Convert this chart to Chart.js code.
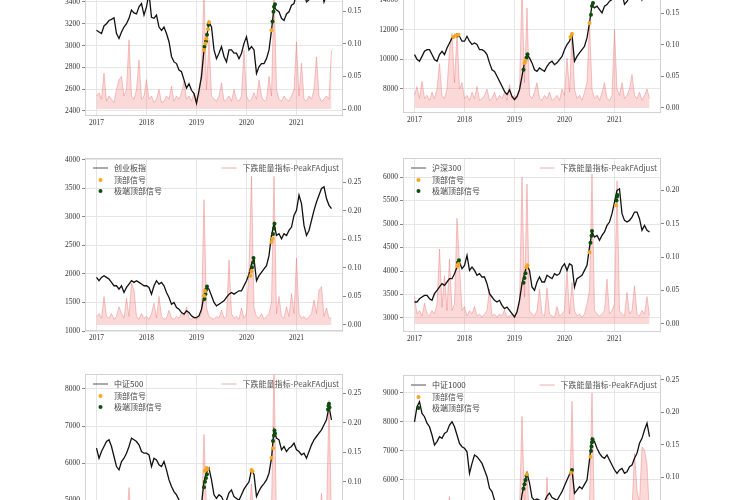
<!DOCTYPE html>
<html>
<head>
<meta charset="utf-8">
<script src="https://cdn.jsdelivr.net/npm/chart.js@4.4.0/dist/chart.umd.min.js"></script>
<style>
  html, body { margin: 0; padding: 0; background: #fff; }
  #wrap { position: relative; width: 750px; height: 500px; overflow: hidden; background: #fff; }
  canvas { position: absolute; }
</style>
</head>
<body>
<div id="wrap">
  <canvas id="c0"></canvas>
  <canvas id="c1"></canvas>
  <canvas id="c2"></canvas>
  <canvas id="c3"></canvas>
  <canvas id="c4"></canvas>
  <canvas id="c5"></canvas>
</div>
<script>
// sampling grid: every 0.05 year from 2017.00 to 2021.70
const dates = [];
for (let i = 0; i <= 94; i++) dates.push(+(2017 + i * 0.05).toFixed(2));
const yearTicks = [2017, 2018, 2019, 2020, 2021];
const peakTicks = [0, 0.05, 0.1, 0.15, 0.2, 0.25];

// 上证指数
const szzsClose = [
  3140, 3125, 3110, 3180, 3200, 3230, 3240, 3255, 3110, 3065, 3125, 3170, 3200, 3250, 3325, 3300, 3290, 3355, 3385, 3280,
  3355, 3480, 3260, 3250, 3280, 3170, 3140, 3170, 3110, 3035, 2900, 2850, 2835, 2775, 2760, 2685, 2610, 2650, 2590, 2560,
  2470, 2590, 2715, 2960, 3065, 3215, 3170, 2960, 2880, 2930, 2990, 2900, 2850, 2960, 2960, 2930, 2930, 2880, 2930, 3020,
  3080, 2960, 2990, 2960, 2745, 2805, 2835, 2835, 2880, 2960, 3140, 3355, 3325, 3310, 3250, 3230, 3290, 3310, 3370, 3385,
  3480, 3540, 3600, 3480, 3400, 3420, 3440, 3520, 3580, 3560, 3540, 3400, 3460, 3560, 3600
];
const szzsPeak = [
  0.02, 0.025, 0.015, 0.055, 0.012, 0.02, 0.015, 0.01, 0.03, 0.045, 0.05, 0.02, 0.03, 0.106, 0.02, 0.015, 0.03, 0.075, 0.015, 0.02,
  0.045, 0.015, 0.02, 0.01, 0.015, 0.03, 0.01, 0.012, 0.02, 0.015, 0.035, 0.012, 0.02, 0.015, 0.025, 0.042, 0.015, 0.02, 0.012, 0.025,
  0.015, 0.02, 0.065, 0.18, 0.03, 0.106, 0.02, 0.015, 0.012, 0.02, 0.04, 0.012, 0.015, 0.02, 0.012, 0.03, 0.015, 0.012, 0.02, 0.09,
  0.02, 0.012, 0.015, 0.025, 0.015, 0.045, 0.02, 0.012, 0.015, 0.05, 0.02, 0.18, 0.03, 0.015, 0.012, 0.02, 0.015, 0.012, 0.02, 0.03,
  0.103, 0.02, 0.07, 0.015, 0.012, 0.02, 0.015, 0.03, 0.08, 0.02, 0.012, 0.015, 0.02, 0.015, 0.09
];
const szzsTop = [[2019.15, 2960], [2019.18, 3020], [2019.2, 3065], [2019.23, 3150], [2019.25, 3215], [2020.5, 3140]];
const szzsExt = [[2019.16, 2990], [2019.19, 3040], [2019.21, 3100], [2019.24, 3190], [2020.52, 3220], [2020.54, 3310], [2020.55, 3355], [2020.57, 3380]];

// 深证成指
const szczClose = [
  10320, 10000, 9870, 10200, 10540, 10650, 10650, 10320, 9980, 9870, 10320, 10540, 10320, 10770, 11100, 11440, 11550, 11670, 11550, 11220,
  11220, 11550, 11220, 11000, 11100, 11000, 10650, 10650, 10540, 10320, 9760, 9300, 9190, 8860, 8520, 8180, 7840, 7620, 7950, 7500,
  7280, 7500, 7950, 8860, 9760, 10320, 10100, 9760, 9300, 9190, 9420, 9300, 9190, 9530, 9760, 9870, 9640, 9760, 9980, 10200,
  10650, 11000, 11220, 11670, 9870, 10200, 10430, 10650, 10880, 11440, 12450, 13690, 13470, 13580, 13350, 13130, 13580, 13690, 13920, 14030,
  14400, 15000, 15500, 14500, 13700, 13900, 14200, 14500, 14700, 14800, 14900, 14000, 14300, 14500, 14400
];
const szczPeak = [
  0.02, 0.034, 0.015, 0.042, 0.015, 0.02, 0.012, 0.025, 0.015, 0.03, 0.07, 0.02, 0.015, 0.03, 0.092, 0.118, 0.04, 0.118, 0.03, 0.04,
  0.015, 0.02, 0.012, 0.025, 0.015, 0.034, 0.012, 0.015, 0.02, 0.03, 0.012, 0.015, 0.025, 0.012, 0.02, 0.015, 0.025, 0.012, 0.037, 0.015,
  0.02, 0.015, 0.03, 0.19, 0.04, 0.158, 0.02, 0.015, 0.025, 0.04, 0.015, 0.012, 0.02, 0.015, 0.025, 0.012, 0.015, 0.02, 0.012, 0.03,
  0.02, 0.079, 0.025, 0.12, 0.03, 0.015, 0.02, 0.012, 0.025, 0.04, 0.134, 0.03, 0.015, 0.02, 0.012, 0.025, 0.04, 0.015, 0.012, 0.02,
  0.124, 0.03, 0.02, 0.04, 0.015, 0.02, 0.03, 0.053, 0.02, 0.015, 0.025, 0.012, 0.02, 0.03, 0.015
];
const szczTop = [[2017.78, 11500], [2017.82, 11600], [2017.88, 11650], [2019.2, 9760], [2019.22, 9900], [2020.12, 11500], [2020.15, 11700], [2020.5, 12450]];
const szczExt = [[2017.85, 11600], [2019.18, 9300], [2019.24, 10100], [2019.26, 10350], [2020.53, 13000], [2020.55, 13600], [2020.57, 13800]];

// 创业板指
const cybzClose = [
  1941, 1882, 1941, 1970, 1941, 1911, 1853, 1794, 1794, 1735, 1794, 1676, 1764, 1823, 1882, 1853, 1882, 1853, 1823, 1794,
  1794, 1764, 1647, 1794, 1882, 1823, 1853, 1794, 1676, 1588, 1470, 1500, 1412, 1382, 1323, 1294, 1353, 1323, 1265, 1235,
  1235, 1265, 1382, 1618, 1764, 1735, 1618, 1500, 1441, 1470, 1500, 1529, 1588, 1647, 1676, 1647, 1676, 1705, 1705, 1794,
  1882, 2000, 2176, 2265, 1882, 1970, 2029, 2088, 2147, 2323, 2676, 2882, 2676, 2705, 2617, 2705, 2676, 2764, 2823, 3029,
  3117, 3382, 3235, 2852, 2676, 2764, 2941, 3117, 3264, 3382, 3500, 3529, 3323, 3205, 3147
];
const cybzPeak = [
  0.015, 0.02, 0.012, 0.05, 0.015, 0.012, 0.02, 0.01, 0.015, 0.032, 0.02, 0.012, 0.047, 0.015, 0.073, 0.061, 0.015, 0.01, 0.02, 0.012,
  0.015, 0.01, 0.02, 0.038, 0.012, 0.05, 0.015, 0.01, 0.012, 0.026, 0.012, 0.01, 0.015, 0.012, 0.02, 0.015, 0.032, 0.012, 0.01, 0.015,
  0.01, 0.012, 0.02, 0.219, 0.03, 0.015, 0.012, 0.01, 0.015, 0.012, 0.026, 0.012, 0.015, 0.114, 0.02, 0.012, 0.015, 0.01, 0.03, 0.012,
  0.02, 0.1, 0.26, 0.03, 0.015, 0.012, 0.02, 0.01, 0.015, 0.02, 0.04, 0.26, 0.02, 0.05, 0.015, 0.012, 0.032, 0.015, 0.055, 0.02,
  0.117, 0.02, 0.012, 0.015, 0.01, 0.015, 0.02, 0.044, 0.02, 0.061, 0.067, 0.015, 0.03, 0.012, 0.012
];
const cybzTop = [[2019.15, 1620], [2019.17, 1700], [2020.08, 1970], [2020.1, 2050], [2020.5, 2560], [2020.52, 2620]];
const cybzExt = [[2019.16, 1560], [2019.18, 1650], [2019.19, 1720], [2019.21, 1780], [2020.11, 2120], [2020.13, 2200], [2020.14, 2280], [2020.53, 2700], [2020.55, 2800], [2020.56, 2880]];

// 沪深300
const hs300Close = [
  3340, 3340, 3410, 3447, 3482, 3482, 3410, 3376, 3518, 3588, 3660, 3730, 3695, 3766, 3837, 3837, 3943, 4085, 4190, 4050,
  4120, 4333, 4014, 4085, 4014, 3908, 3943, 3872, 3872, 3730, 3518, 3447, 3376, 3340, 3376, 3270, 3200, 3234, 3163, 3092,
  3021, 3128, 3376, 3730, 3943, 4120, 4014, 3660, 3588, 3766, 3872, 3766, 3766, 3908, 3872, 3837, 3943, 3908, 3943, 4085,
  4155, 4014, 4155, 4120, 3660, 3837, 3872, 3908, 4014, 4120, 4510, 4830, 4723, 4758, 4652, 4758, 4830, 4970, 5042, 5220,
  5467, 5716, 5750, 5220, 5077, 5042, 5077, 5148, 5255, 5255, 5113, 4865, 4970, 4865, 4830
];
const hs300Peak = [
  0.041, 0.015, 0.02, 0.012, 0.031, 0.015, 0.012, 0.02, 0.015, 0.03, 0.112, 0.025, 0.072, 0.02, 0.097, 0.02, 0.03, 0.158, 0.087, 0.02,
  0.026, 0.012, 0.02, 0.015, 0.026, 0.012, 0.015, 0.01, 0.015, 0.02, 0.052, 0.012, 0.015, 0.01, 0.015, 0.012, 0.021, 0.01, 0.012, 0.015,
  0.012, 0.02, 0.03, 0.219, 0.04, 0.209, 0.02, 0.015, 0.012, 0.02, 0.052, 0.015, 0.012, 0.054, 0.015, 0.012, 0.01, 0.026, 0.012, 0.015,
  0.02, 0.082, 0.015, 0.062, 0.02, 0.012, 0.015, 0.01, 0.015, 0.03, 0.05, 0.224, 0.02, 0.015, 0.012, 0.015, 0.02, 0.067, 0.015, 0.02,
  0.03, 0.214, 0.02, 0.015, 0.012, 0.047, 0.015, 0.02, 0.057, 0.015, 0.012, 0.02, 0.015, 0.041, 0.012
];
const hs300Top = [[2017.86, 4100], [2017.88, 4150], [2019.24, 4080], [2019.26, 4120], [2020.5, 4400], [2021.03, 5400]];
const hs300Ext = [[2017.87, 4180], [2017.89, 4230], [2019.18, 3750], [2019.2, 3850], [2019.22, 3950], [2020.52, 4600], [2020.54, 4750], [2020.55, 4850], [2021.04, 5500], [2021.05, 5580], [2021.06, 5620]];

// 中证500
const zz500Close = [
  6405, 6135, 6315, 6450, 6585, 6630, 6450, 6180, 5910, 5820, 6045, 6135, 6270, 6450, 6675, 6630, 6585, 6495, 6315, 6270,
  6270, 6225, 5910, 6135, 6090, 5955, 5910, 6045, 5820, 5550, 5370, 5235, 5145, 5010, 4700, 4500, 4650, 4550, 4400, 4250,
  4150, 4400, 4900, 5500, 5750, 5870, 5550, 5150, 5050, 5150, 5100, 4950, 5000, 5200, 5280, 5100, 5050, 5000, 5150, 5300,
  5400, 5500, 5820, 5700, 5100, 5250, 5370, 5450, 5550, 5730, 6135, 6900, 6675, 6630, 6360, 6450, 6315, 6405, 6450, 6540,
  6360, 6315, 6225, 6270, 6135, 6315, 6495, 6630, 6720, 6810, 6900, 7035, 7170, 7530, 7170
];
const zz500Peak = [
  0.02, 0.03, 0.015, 0.04, 0.015, 0.02, 0.012, 0.025, 0.04, 0.05, 0.02, 0.015, 0.03, 0.09, 0.02, 0.015, 0.04, 0.02, 0.015, 0.02,
  0.015, 0.02, 0.03, 0.015, 0.012, 0.04, 0.015, 0.012, 0.02, 0.015, 0.03, 0.012, 0.015, 0.02, 0.012, 0.03, 0.015, 0.012, 0.02, 0.015,
  0.012, 0.02, 0.04, 0.18, 0.05, 0.06, 0.02, 0.015, 0.012, 0.02, 0.03, 0.012, 0.015, 0.05, 0.02, 0.012, 0.015, 0.02, 0.012, 0.03,
  0.02, 0.04, 0.096, 0.03, 0.015, 0.012, 0.02, 0.015, 0.012, 0.03, 0.05, 0.3, 0.03, 0.015, 0.02, 0.012, 0.015, 0.03, 0.015, 0.02,
  0.05, 0.02, 0.015, 0.012, 0.02, 0.015, 0.02, 0.015, 0.012, 0.03, 0.08, 0.02, 0.04, 0.238, 0.03
];
const zz500Top = [[2019.17, 5800], [2019.2, 5870], [2019.22, 5840], [2020.1, 5820], [2020.12, 5780], [2020.5, 6150], [2020.53, 6400]];
const zz500Ext = [[2019.15, 5350], [2019.17, 5500], [2019.19, 5600], [2019.21, 5700], [2020.53, 6600], [2020.55, 6750], [2020.56, 6880], [2020.57, 6800], [2021.63, 7450], [2021.64, 7550], [2021.65, 7600], [2021.66, 7500]];

// 中证1000
const zz1000Close = [
  8000, 8520, 8690, 8290, 8175, 7950, 7830, 7545, 7200, 7320, 7490, 7430, 7600, 7660, 7890, 8000, 7830, 7545, 7260, 7145,
  7090, 6970, 6230, 6570, 6860, 6800, 6690, 6570, 6345, 6115, 5715, 5600, 5310, 5100, 4900, 4700, 4800, 4600, 4500, 4300,
  4200, 4400, 4900, 5500, 5900, 6230, 5900, 5400, 5300, 5350, 5300, 5200, 5250, 5450, 5550, 5400, 5350, 5300, 5450, 5600,
  5800, 6000, 6200, 6345, 5540, 5650, 5770, 5700, 5850, 6000, 6690, 7430, 7320, 7090, 6915, 6800, 6745, 6860, 6690, 6515,
  6345, 6230, 6345, 6400, 6230, 6285, 6460, 6515, 6745, 6915, 7260, 7430, 7720, 7950, 7490
];
const zz1000Peak = [
  0.03, 0.04, 0.02, 0.03, 0.015, 0.02, 0.04, 0.03, 0.05, 0.02, 0.03, 0.015, 0.02, 0.03, 0.07, 0.02, 0.03, 0.04, 0.02, 0.03,
  0.02, 0.03, 0.05, 0.02, 0.015, 0.02, 0.03, 0.015, 0.02, 0.03, 0.04, 0.02, 0.03, 0.02, 0.015, 0.03, 0.02, 0.015, 0.03, 0.02,
  0.015, 0.02, 0.05, 0.194, 0.06, 0.11, 0.03, 0.02, 0.015, 0.02, 0.03, 0.015, 0.02, 0.1, 0.03, 0.015, 0.02, 0.015, 0.02, 0.03,
  0.02, 0.04, 0.06, 0.217, 0.04, 0.02, 0.015, 0.02, 0.03, 0.04, 0.06, 0.23, 0.03, 0.02, 0.015, 0.02, 0.03, 0.015, 0.02, 0.03,
  0.02, 0.03, 0.015, 0.02, 0.03, 0.015, 0.02, 0.05, 0.137, 0.08, 0.06, 0.147, 0.142, 0.12, 0.04
];
const zz1000Top = [[2019.25, 6200], [2020.13, 6250], [2020.52, 6800]];
const zz1000Ext = [[2019.18, 5700], [2019.2, 5850], [2019.22, 6000], [2019.24, 6150], [2020.15, 6345], [2020.53, 7000], [2020.54, 7150], [2020.55, 7300], [2020.56, 7400]];

const peakLabel = '下跌能量指标-PeakFAdjust';
const topLabel = '顶部信号';
const extLabel = '极端顶部信号';

// layout of the six panels (plot-area edges in page pixels) and axis ranges
const panels = [
  { id: 'c0', name: '上证指数', close: szzsClose, peak: szzsPeak, top: szzsTop, ext: szzsExt,
    L: 85, R: 343, T: -58, B: 116, yMin: 2354, yMax: 3950, yTicks: [2400, 2600, 2800, 3000, 3200, 3400, 3600, 3800], pMin: -0.0107, pMax: 0.2557 },
  { id: 'c1', name: '深证成指', close: szczClose, peak: szczPeak, top: szczTop, ext: szczExt,
    L: 403, R: 661, T: -61, B: 113, yMin: 6382, yMax: 18110, yTicks: [8000, 10000, 12000, 14000, 16000], pMin: -0.0079, pMax: 0.267 },
  { id: 'c2', name: '创业板指', close: cybzClose, peak: cybzPeak, top: cybzTop, ext: cybzExt,
    L: 85, R: 343, T: 158, B: 331, yMin: 1000, yMax: 4035, yTicks: [1000, 1500, 2000, 2500, 3000, 3500, 4000], pMin: -0.0105, pMax: 0.292 },
  { id: 'c3', name: '沪深300', close: hs300Close, peak: hs300Peak, top: hs300Top, ext: hs300Ext,
    L: 403, R: 661, T: 158, B: 332, yMin: 2702, yMax: 6405, yTicks: [3000, 3500, 4000, 4500, 5000, 5500, 6000], pMin: -0.012, pMax: 0.248 },
  { id: 'c4', name: '中证500', close: zz500Close, peak: zz500Peak, top: zz500Top, ext: zz500Ext,
    L: 85, R: 343, T: 374, B: 548, yMin: 3715, yMax: 8404, yTicks: [4000, 5000, 6000, 7000, 8000], pMin: -0.0128, pMax: 0.2828 },
  { id: 'c5', name: '中证1000', close: zz1000Close, peak: zz1000Peak, top: zz1000Top, ext: zz1000Ext,
    L: 403, R: 661, T: 375, B: 549, yMin: 3629, yMax: 9608, yTicks: [4000, 5000, 6000, 7000, 8000, 9000], pMin: -0.0104, pMax: 0.2577 }
];

const AXW = 45, PADT = 10, XAXH = 24;
const tickFont = { family: '"Liberation Serif", "DejaVu Serif", serif', size: 7.5 };
const legendFont = '8px "Noto Sans CJK SC", sans-serif';

// frame + two legends drawn on the canvas
const panelDecor = {
  id: 'panelDecor',
  afterDraw(chart, args, opts) {
    const ctx = chart.ctx;
    const a = chart.chartArea;
    ctx.save();
    ctx.strokeStyle = '#d2d2d2';
    ctx.lineWidth = 1;
    ctx.strokeRect(a.left + 0.5, a.top + 0.5, a.right - a.left - 1, a.bottom - a.top - 1);

    ctx.font = legendFont;
    ctx.textBaseline = 'middle';
    ctx.fillStyle = '#444';
    const x0 = a.left;
    const r1 = a.top + 10, r2 = a.top + 22, r3 = a.top + 33;
    // left legend
    ctx.strokeStyle = '#555';
    ctx.beginPath(); ctx.moveTo(x0 + 8, r1); ctx.lineTo(x0 + 23, r1); ctx.stroke();
    ctx.fillText(opts.name, x0 + 29, r1);
    ctx.fillStyle = '#f5a623';
    ctx.beginPath(); ctx.arc(x0 + 15.5, r2, 2, 0, Math.PI * 2); ctx.fill();
    ctx.fillStyle = '#0b4d0b';
    ctx.beginPath(); ctx.arc(x0 + 15.5, r3, 2, 0, Math.PI * 2); ctx.fill();
    ctx.fillStyle = '#444';
    ctx.fillText(topLabel, x0 + 29, r2);
    ctx.fillText(extLabel, x0 + 29, r3);
    // right legend
    const tw = ctx.measureText(peakLabel).width;
    const tx = a.right - 4 - tw;
    ctx.strokeStyle = 'rgba(235,120,120,0.6)';
    ctx.beginPath(); ctx.moveTo(tx - 21, r1); ctx.lineTo(tx - 6, r1); ctx.stroke();
    ctx.fillStyle = '#555';
    ctx.fillText(peakLabel, tx, r1);
    ctx.restore();
  }
};

function fixTicks(values) {
  return function (scale) {
    scale.ticks = values.filter(v => v >= scale.min && v <= scale.max).map(v => ({ value: v }));
  };
}

panels.forEach(p => {
  const cv = document.getElementById(p.id);
  const w = p.R - p.L + 2 * AXW;
  const h = p.B - p.T + PADT + XAXH;
  cv.width = w;
  cv.height = h;
  cv.style.left = (p.L - AXW) + 'px';
  cv.style.top = (p.T - PADT) + 'px';

  new Chart(cv, {
    type: 'line',
    data: {
      datasets: [
        {
          label: p.name,
          data: dates.map((d, i) => ({ x: d, y: p.close[i] })),
          yAxisID: 'y',
          borderColor: '#111',
          borderWidth: 1.3,
          pointRadius: 0,
          tension: 0,
          fill: false,
          order: 1
        },
        {
          label: topLabel,
          data: p.top.map(s => ({ x: s[0], y: s[1] })),
          yAxisID: 'y',
          showLine: false,
          pointRadius: 2,
          pointBorderWidth: 0,
          pointBackgroundColor: '#f5a623',
          order: 0
        },
        {
          label: extLabel,
          data: p.ext.map(s => ({ x: s[0], y: s[1] })),
          yAxisID: 'y',
          showLine: false,
          pointRadius: 2,
          pointBorderWidth: 0,
          pointBackgroundColor: '#0b4d0b',
          order: 0
        },
        {
          label: peakLabel,
          data: dates.map((d, i) => ({ x: d, y: p.peak[i] })),
          yAxisID: 'y1',
          borderColor: 'rgba(232,96,96,0.45)',
          backgroundColor: 'rgba(240,120,120,0.28)',
          borderWidth: 0.8,
          pointRadius: 0,
          tension: 0,
          fill: 'origin',
          order: 2
        }
      ]
    },
    options: {
      responsive: false,
      animation: false,
      devicePixelRatio: 1,
      layout: { padding: { top: PADT, left: 0, right: 0, bottom: 0 } },
      plugins: {
        legend: { display: false },
        tooltip: { enabled: false },
        panelDecor: { name: p.name }
      },
      scales: {
        x: {
          type: 'linear',
          min: 2016.77,
          max: 2021.93,
          afterBuildTicks: fixTicks(yearTicks),
          afterFit(s) { s.height = XAXH; },
          grid: { color: '#e6e6e6', drawTicks: false },
          border: { display: false },
          ticks: { font: tickFont, color: '#333', padding: 3, autoSkip: false, maxRotation: 0, callback: v => String(v) }
        },
        y: {
          position: 'left',
          min: p.yMin,
          max: p.yMax,
          afterBuildTicks: fixTicks(p.yTicks),
          afterFit(s) { s.width = AXW; },
          grid: { color: '#e6e6e6', tickLength: 3, tickColor: '#888' },
          border: { display: false },
          ticks: { font: tickFont, color: '#333', padding: 2, autoSkip: false, callback: v => String(v) }
        },
        y1: {
          position: 'right',
          min: p.pMin,
          max: p.pMax,
          afterBuildTicks: fixTicks(peakTicks),
          afterFit(s) { s.width = AXW; },
          grid: { drawOnChartArea: false, tickLength: 3, tickColor: '#888' },
          border: { display: false },
          ticks: { font: tickFont, color: '#333', padding: 2, autoSkip: false, callback: v => v.toFixed(2) }
        }
      }
    },
    plugins: [panelDecor]
  });
});
</script>
</body>
</html>
